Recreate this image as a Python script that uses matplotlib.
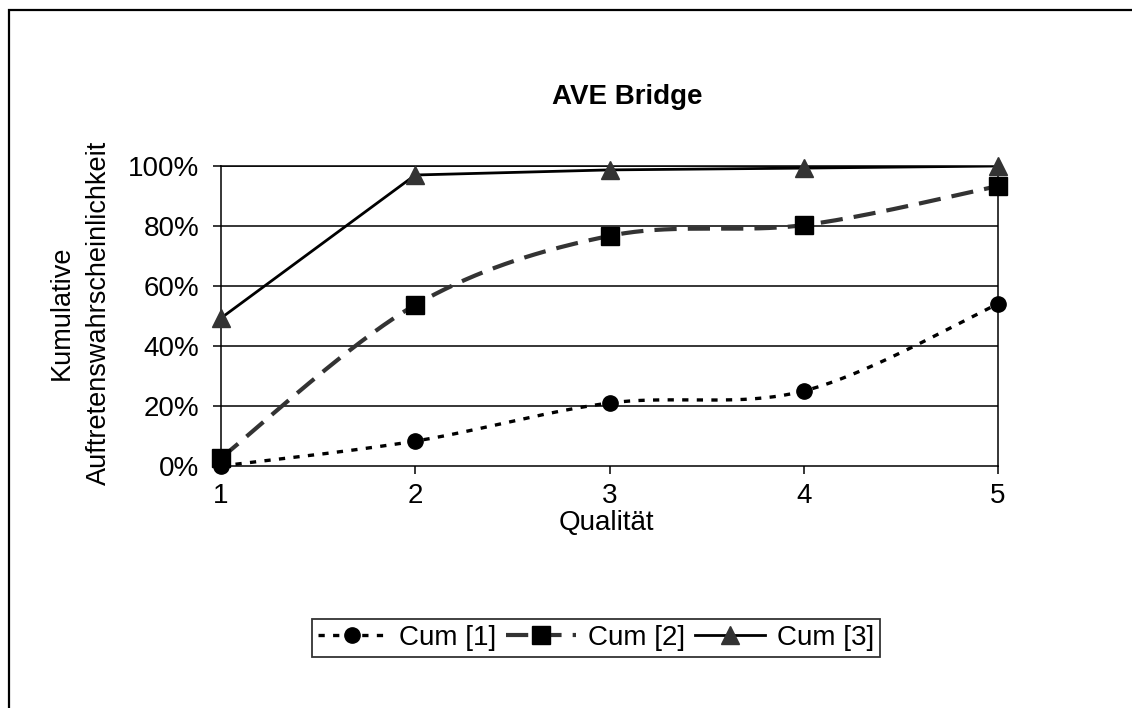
import numpy as np
import matplotlib
matplotlib.use("Agg")
import matplotlib.pyplot as plt
from matplotlib.lines import Line2D
from matplotlib.patches import Rectangle
from matplotlib.ticker import PercentFormatter

plt.rcParams['font.family'] = ['Liberation Sans', 'DejaVu Sans']
plt.rcParams['lines.scale_dashes'] = False

# data
quality = [1, 2, 3, 4, 5]
cum1 = [0.0, 0.083, 0.21, 0.25, 0.54]
cum2 = [0.027, 0.537, 0.767, 0.803, 0.933]
cum3 = [0.493, 0.97, 0.987, 0.993, 1.0]
labels = ["Cum [1]", "Cum [2]", "Cum [3]"]


def smooth(xs, ys, n=40):
    # excel-like smoothed line: cubic bezier with catmull-rom control points
    p = np.column_stack([xs, ys]).astype(float)
    out = []
    for i in range(len(p) - 1):
        p0 = p[i - 1] if i > 0 else p[i]
        p3 = p[i + 2] if i + 2 < len(p) else p[i + 1]
        c1 = p[i] + (p[i + 1] - p0) / 6.0
        c2 = p[i + 1] - (p3 - p[i]) / 6.0
        t = np.linspace(0, 1, n)[:, None]
        seg = ((1 - t) ** 3 * p[i] + 3 * (1 - t) ** 2 * t * c1
               + 3 * (1 - t) * t ** 2 * c2 + t ** 3 * p[i + 1])
        out.append(seg if i == 0 else seg[1:])
    out = np.vstack(out)
    return out[:, 0], out[:, 1]


fig = plt.figure(figsize=(11.32, 7.08), dpi=100)
ax = fig.add_axes([221 / 1132, 1 - 466 / 708, 777 / 1132, 300 / 708])

# outer chart frame (right/bottom edges fall outside the image)
fig.add_artist(Rectangle((9 / 1132, -0.1), 1.2, 1.1 - 10 / 708,
                         transform=fig.transFigure, fill=False,
                         edgecolor='black', linewidth=1.6, clip_on=False))

for v in [0.2, 0.4, 0.6, 0.8, 1.0]:
    ax.axhline(v, color='black', linewidth=1.1, zorder=1)

s1 = dict(color='black', linewidth=2.4, dashes=(4.5, 6.0))
s2 = dict(color='#333333', linewidth=3.0, dashes=(16, 8))
s3 = dict(color='black', linewidth=2.0, linestyle='-')

x1, y1 = smooth(quality, cum1)
ax.plot(x1, y1, zorder=3, **s1)
x2, y2 = smooth(quality, cum2)
ax.plot(x2, y2, zorder=3, **s2)
ax.plot(quality, cum3, zorder=3, **s3)

m1 = dict(marker='o', markersize=11, markerfacecolor='black', markeredgecolor='black')
m2 = dict(marker='s', markersize=13, markerfacecolor='black', markeredgecolor='black')
m3 = dict(marker='^', markersize=13, markerfacecolor='#333333', markeredgecolor='#333333')
ax.plot(quality, cum1, linestyle='none', zorder=4, clip_on=False, **m1)
ax.plot(quality, cum2, linestyle='none', zorder=4, clip_on=False, **m2)
ax.plot(quality, cum3, linestyle='none', zorder=4, clip_on=False, **m3)

ax.set_xlim(1, 5)
ax.set_ylim(0, 1)
ax.set_xticks(quality)
ax.set_yticks([0, 0.2, 0.4, 0.6, 0.8, 1.0])
ax.yaxis.set_major_formatter(PercentFormatter(1.0, decimals=0))
ax.tick_params(axis='both', direction='out', length=6, width=1.1,
               labelsize=20, color='black')
ax.tick_params(axis='y', pad=9.5)
ax.tick_params(axis='x', pad=6)
for sp in ax.spines.values():
    sp.set_color('black')
    sp.set_linewidth(1.1)

fig.text(627 / 1132, 1 - 97 / 708, "AVE Bridge", fontsize=20, fontweight='bold',
         ha='center', va='center')
fig.text(606 / 1132, 1 - 523 / 708, "Qualität", fontsize=20,
         ha='center', va='center')
fig.text(80 / 1132, 1 - 313 / 708, "Kumulative\nAuftretenswahrscheinlichkeit",
         fontsize=19.5, rotation=90, ha='center', va='center',
         multialignment='center', linespacing=1.55)

handles = [Line2D([], [], **s1, **m1), Line2D([], [], **s2, **m2),
           Line2D([], [], **s3, **m3)]
leg = fig.legend(handles, labels, ncol=3, loc='center',
                 bbox_to_anchor=(596 / 1132, 1 - 638 / 708), fontsize=20,
                 frameon=True, fancybox=False, handlelength=2.5,
                 handletextpad=0.45, columnspacing=0.35, borderpad=0.2,
                 borderaxespad=0)
leg.get_frame().set_edgecolor('black')
leg.get_frame().set_linewidth(1.3)

fig.savefig("out.png", dpi=100)
